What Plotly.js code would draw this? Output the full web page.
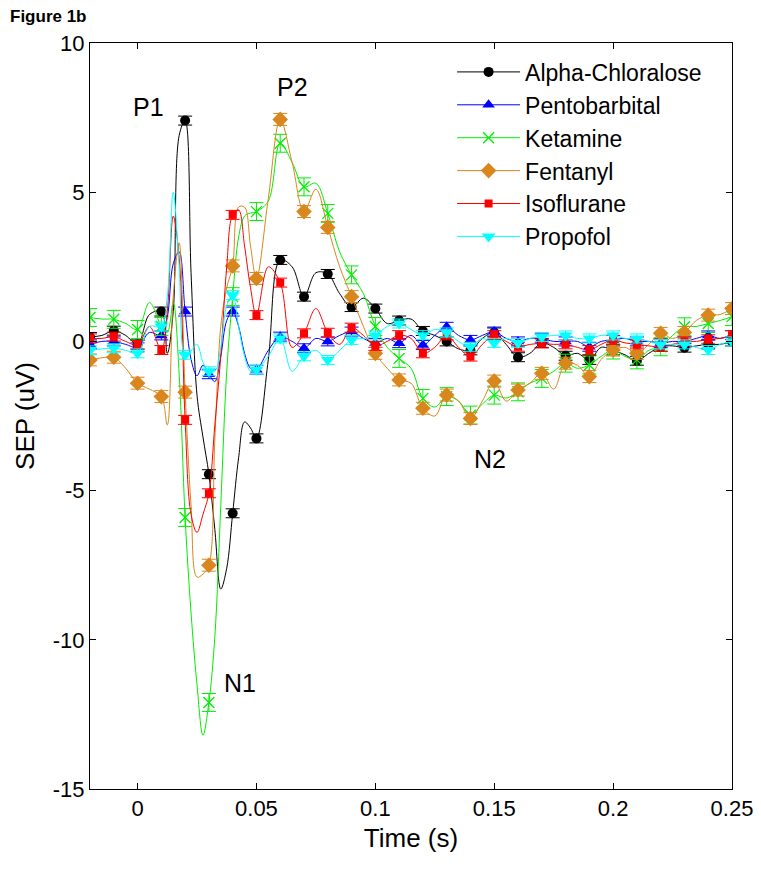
<!DOCTYPE html>
<html>
<head>
<meta charset="utf-8">
<script src="https://cdn.plot.ly/plotly-3.0.1.min.js"></script>
<style>
  body { margin: 0; background: #fff; }
  #sep-plot { width: 761px; height: 872px; }
</style>
</head>
<body>
<div id="sep-plot"></div>
<script>
// time base of the averaged waveforms (s)
const time = [
    -0.02, -0.015, -0.01, -0.005, 0, 0.005, 0.01,
    0.0125, 0.015, 0.0175, 0.02, 0.0225, 0.025, 0.0275, 0.03, 0.0325, 0.035, 0.0375, 0.04, 0.0425, 0.045, 0.0475, 0.05,
    0.055, 0.06, 0.065, 0.07, 0.075, 0.08, 0.085, 0.09, 0.095, 0.1,
    0.105, 0.11, 0.115, 0.12, 0.125, 0.13, 0.135, 0.14, 0.145, 0.15,
    0.155, 0.16, 0.165, 0.17, 0.175, 0.18, 0.185, 0.19, 0.195, 0.2,
    0.205, 0.21, 0.215, 0.22, 0.225, 0.23, 0.235, 0.24, 0.245, 0.25
];

// SEP amplitude (uV) per anaesthetic
const alphaChloralose = [
    0.15, 0.2, 0.36, 0.2, -0.1, 0.9, 1.0,
    -0.4, 1.0, 6.9, 7.4, 2.3, -1.8, -3.2, -4.45, -6.3, -8.3, -7.6, -5.76, -3.9, -2.7, -2.9, -3.25,
    -0.6, 2.73, 2.5, 1.5, 2.3, 2.26, 1.6, 1.15, 1.45, 1.1,
    0.6, 0.7, 0.75, 0.35, 0.2, 0.0, -0.25, -0.3, 0.1, 0.3,
    -0.1, -0.53, -0.4, -0.05, -0.2, -0.48, -0.4, -0.62, -0.2, -0.3,
    -0.45, -0.65, -0.4, -0.18, -0.15, -0.21, -0.15, -0.1, -0.1, 0.0
];
const pentobarbital = [
    -0.1, 0.0, 0.0, -0.1, -0.2, 0.3, 0.2,
    0.8, 2.6, 3.0, 1.0, -0.6, -1.15, -0.8, -1.1, -1.35, -0.5, 0.7, 1.0, 0.5, -0.4, -0.9, -0.95,
    -0.3, 0.16, 0.0, -0.23, 0.1, 0.0, 0.2, 0.33, 0.1, -0.05,
    0.1, -0.06, 0.2, -0.12, 0.2, 0.49, 0.2, 0.05, 0.2, 0.33,
    0.1, 0.0, 0.1, 0.1, 0.0, 0.0, 0.0, -0.18, 0.0, 0.05,
    0.1, 0.0, 0.0, -0.05, 0.0, 0.0, 0.1, 0.2, 0.1, 0.21
];
const ketamine = [
    0.8, 0.75, 0.74, 0.6, 0.4, 1.3, 0.5,
    0.3, 1.3, -1.1, -5.9, -9.1, -11.5, -13.2, -12.1, -9.9, -5.5, -1.0, 1.5, 3.5, 4.2, 4.3, 4.35,
    4.7, 6.64, 6.0, 5.18, 5.3, 4.29, 3.0, 2.23, 1.6, 0.5,
    -0.2, -0.57, -0.9, -1.91, -2.2, -1.85, -2.0, -2.47, -2.1, -1.8,
    -1.9, -1.69, -1.4, -1.24, -1.0, -0.73, -0.9, -0.79, -0.5, -0.29,
    -0.5, -0.62, -0.3, -0.18, 0.2, 0.49, 0.5, 0.6, 0.7, 0.83
];
const fentanyl = [
    -0.62, -0.55, -0.53, -0.9, -1.4, -1.6, -1.85,
    -2.8, 1.5, 3.3, -1.7, -5.5, -7.9, -7.8, -7.5, -3.3, 0.5, 1.8, 2.53, 4.5, 4.5, 3.2, 2.11,
    4.8, 7.44, 6.0, 4.35, 5.1, 3.82, 2.5, 1.5, 0.5, -0.4,
    -0.9, -1.29, -1.4, -2.24, -2.5, -1.8, -2.0, -2.58, -2.0, -1.33,
    -2.0, -1.63, -1.4, -1.07, -1.6, -0.73, -0.8, -1.18, -0.6, -0.29,
    -0.2, -0.4, -0.1, 0.27, 0.1, 0.3, 0.7, 0.88, 0.9, 1.1
];
const isoflurane = [
    0.1, 0.1, 0.16, 0.0, -0.12, 0.5, -0.29,
    1.0, 4.2, 2.8, -2.63, -5.8, -6.4, -5.8, -5.09, -2.8, -0.5, 2.5, 4.24, 4.4, 3.2, 1.8, 0.88,
    2.5, 1.97, -0.2, 0.27, 1.1, 0.29, -0.1, 0.46, 0.2, -0.15,
    0.0, 0.21, 0.1, -0.4, -0.2, 0.2, -0.2, -0.51, -0.1, 0.21,
    0.0, -0.18, -0.1, -0.07, -0.1, -0.1, -0.2, -0.29, -0.1, 0.05,
    -0.05, -0.1, -0.15, -0.18, -0.1, 0.0, 0.0, 0.07, 0.1, 0.21
];
const propofol = [
    -0.3, -0.25, -0.23, -0.3, -0.4, 0.5, 0.5,
    1.5, 5.0, 2.5, -0.45, -0.3, -0.1, -0.7, -1.0, -1.0, -0.2, 1.2, 1.55, 0.5, -0.5, -1.0, -0.95,
    -0.5, 0.1, -1.0, -0.5, -0.3, -0.62, -0.3, 0.05, 0.1, 0.2,
    0.5, 0.6, 0.4, 0.21, 0.4, 0.3, 0.0, -0.18, 0.1, -0.05,
    0.1, -0.05, 0.1, 0.15, 0.2, 0.2, 0.1, 0.1, 0.2, 0.2,
    0.1, 0.1, 0.0, -0.1, -0.1, -0.1, -0.2, -0.29, -0.1, 0.0
];

const names = ['Alpha-Chloralose', 'Pentobarbital', 'Ketamine', 'Fentanyl', 'Isoflurane', 'Propofol'];
const colors = ['#000000', '#0000ff', '#00ee00', '#d9861c', '#ff0000', '#00ffff'];
const errorSize = [0.15, 0.15, 0.3, 0.2, 0.15, 0.15];   // half-width of error bars (uV)

const xTicks = [0, 0.05, 0.1, 0.15, 0.2, 0.25];
const xTickText = ['0', '0.05', '0.1', '0.15', '0.2', '0.25'];
const yTicks = [-15, -10, -5, 0, 5, 10];
const yTickText = ['-15', '-10', '-5', '0', '5', '10'];

const peakLabels = ['P1', 'P2', 'N1', 'N2'];
const peakX = [0.0045, 0.0653, 0.0432, 0.1483];
const peakY = [7.86, 8.54, -11.45, -3.94];

const allSeries = [alphaChloralose, pentobarbital, ketamine, fentanyl, isoflurane, propofol];
const symbols = ['circle', 'triangle-up', 'x-thin-open', 'diamond', 'square', 'triangle-down'];
const sizes = [10, 11, 11, 12, 8, 12];

const FONT = 'Liberation Sans, Arial, Helvetica, sans-serif';

function markerStyle(i) {
    const m = { symbol: symbols[i], size: sizes[i], color: colors[i] };
    if (symbols[i] === 'x-thin-open') m.line = { color: colors[i], width: 1.3 };
    return m;
}

const traces = [];
allSeries.forEach((vals, i) => {
    // continuous waveform
    traces.push({
        x: time, y: vals, type: 'scatter', mode: 'lines',
        line: { color: colors[i], width: 1, shape: 'spline', smoothing: 1 },
        showlegend: false, hoverinfo: 'skip'
    });
    // mean +/- error every 10 ms
    const idx = time.map((t, j) => j).filter(j => Math.abs(time[j] * 100 - Math.round(time[j] * 100)) < 1e-6);
    traces.push({
        x: idx.map(j => time[j]), y: idx.map(j => vals[j]), type: 'scatter', mode: 'markers',
        marker: markerStyle(i),
        error_y: { type: 'constant', value: errorSize[i], color: colors[i], thickness: 1, width: 7 },
        showlegend: false, name: names[i]
    });
});
// legend entries (line + symbol)
allSeries.forEach((vals, i) => {
    traces.push({
        x: [null], y: [null], type: 'scatter', mode: 'lines+markers', name: names[i],
        line: { color: colors[i], width: 1 }, marker: markerStyle(i)
    });
});

const annotations = peakLabels.map((txt, i) => ({
    x: peakX[i], y: peakY[i], xref: 'x', yref: 'y', text: txt, showarrow: false,
    font: { family: FONT, size: 25, color: '#000' }
}));
annotations.push({
    x: -0.128, y: 1.036, xref: 'paper', yref: 'paper', xanchor: 'left', yanchor: 'middle',
    text: '<b>Figure 1b</b>', showarrow: false, font: { family: FONT, size: 17, color: '#000' }
});

const layout = {
    width: 761, height: 872,
    margin: { l: 90, r: 29, t: 43, b: 83 },
    paper_bgcolor: '#fff', plot_bgcolor: '#fff',
    font: { family: FONT, color: '#000' },
    showlegend: true,
    legend: {
        x: 0.564, y: 0.99, xanchor: 'left', yanchor: 'top',
        bgcolor: 'rgba(0,0,0,0)', font: { family: FONT, size: 23 },
        itemwidth: 63
    },
    xaxis: {
        range: [-0.02, 0.25], tickvals: xTicks, ticktext: xTickText,
        ticks: 'inside', ticklen: 6, tickcolor: '#000',
        showline: true, linecolor: '#000', linewidth: 1, mirror: 'ticks',
        showgrid: false, zeroline: false,
        tickfont: { family: FONT, size: 22 },
        title: { text: 'Time (s)', font: { family: FONT, size: 26 }, standoff: 8 }
    },
    yaxis: {
        range: [-15, 10], tickvals: yTicks, ticktext: yTickText,
        ticks: 'inside', ticklen: 6, tickcolor: '#000',
        showline: true, linecolor: '#000', linewidth: 1, mirror: 'ticks',
        showgrid: false, zeroline: false,
        tickfont: { family: FONT, size: 22 },
        title: { text: 'SEP (uV)', font: { family: FONT, size: 26 }, standoff: 10 }
    },
    annotations: annotations
};

Plotly.newPlot('sep-plot', traces, layout, { displayModeBar: false, responsive: false });
</script>
</body>
</html>
